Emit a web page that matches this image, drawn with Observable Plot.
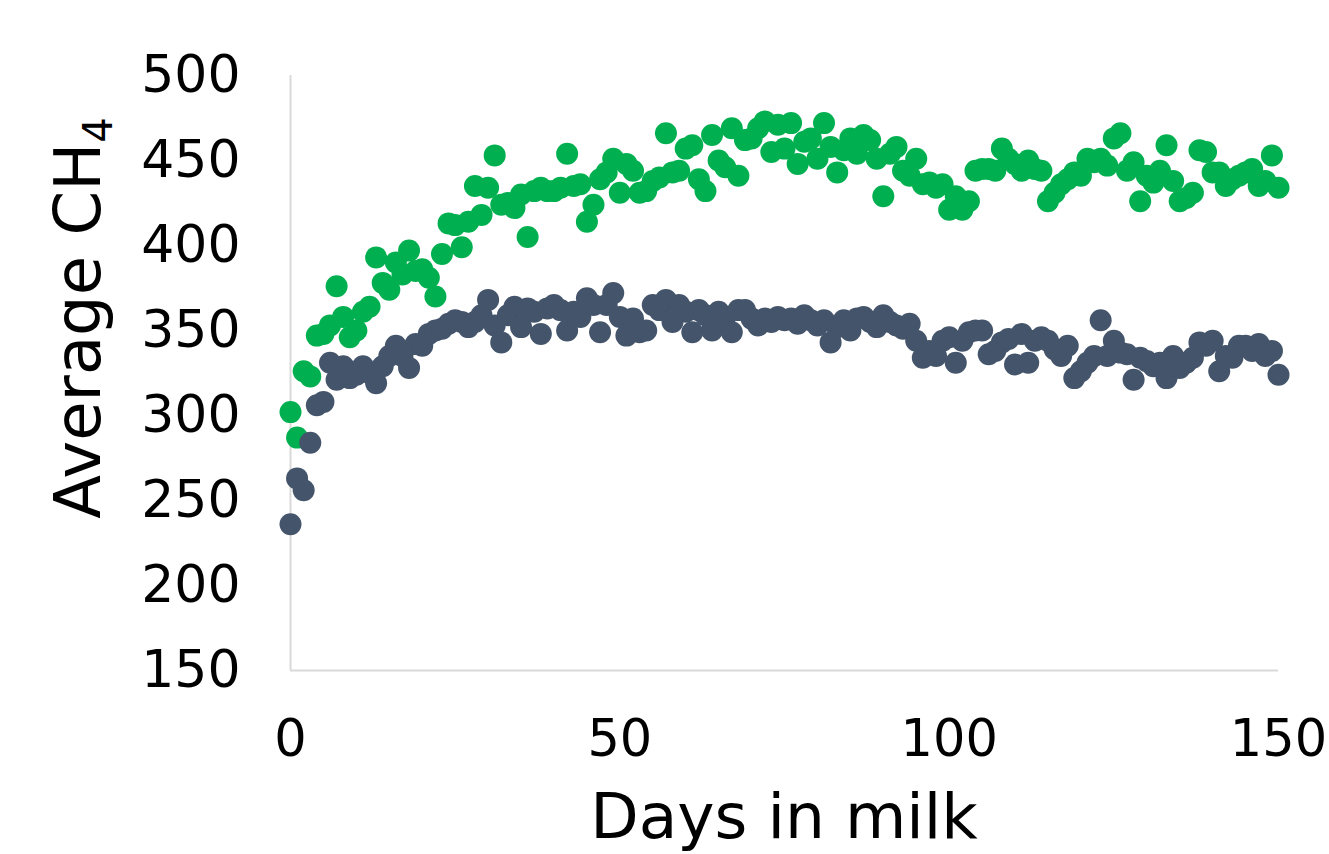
<!DOCTYPE html>
<html>
<head>
<meta charset="utf-8">
<script src="https://cdn.jsdelivr.net/npm/d3@7"></script>
<script src="https://cdn.jsdelivr.net/npm/@observablehq/plot@0.6"></script>
<style>
  html, body { margin: 0; padding: 0; background: #fff; }
  #chart { width: 1329px; height: 854px; }
</style>
</head>
<body>
<div id="chart"></div>
<script>
// Days in milk 0..150 (one point per day)
const days = d3.range(0, 151);

// Upper series (green)
const greenValues = [
  302, 287, 326, 323, 347, 348, 353, 376, 358, 346,
  350, 361, 364, 393, 378, 374, 390, 383, 397, 385,
  386, 381, 370, 395, 413, 412, 399, 414, 435, 418,
  434, 453, 424, 425, 422, 430, 405, 432, 434, 432,
  432, 434, 454, 435, 436, 414, 424, 439, 443, 451,
  431, 448, 444, 431, 432, 438, 440, 466, 443, 444,
  457, 459, 439, 432, 465, 450, 446, 469, 441, 462,
  463, 469, 473, 455, 471, 457, 472, 448, 461, 463,
  451, 472, 458, 443, 456, 463, 454, 465, 462, 451,
  429, 454, 458, 444, 441, 451, 436, 437, 434, 436,
  421, 429, 421, 426, 444, 445, 445, 444, 457, 451,
  448, 444, 450, 445, 444, 426, 431, 436, 439, 443,
  441, 451, 449, 451, 447, 463, 466, 444, 449, 426,
  441, 437, 444, 459, 438, 426, 428, 431, 456, 455,
  443, 443, 435, 439, 441, 443, 445, 435, 438, 453,
  434
];

// Lower series (dark blue-grey)
const navyValues = [
  236, 263, 256, 284, 306, 308, 331, 321, 329, 322,
  324, 329, 325, 319, 329, 335, 341, 335, 328, 342,
  341, 348, 350, 351, 354, 356, 355, 352, 355, 359,
  368, 353, 343, 359, 364, 352, 363, 361, 348, 363,
  365, 362, 350, 361, 358, 369, 365, 349, 365, 372,
  358, 347, 357, 349, 350, 365, 362, 368, 355, 365,
  361, 349, 362, 359, 350, 361, 358, 349, 362, 362,
  357, 353, 357, 355, 358, 356, 357, 354, 359, 356,
  353, 356, 343, 352, 356, 350, 357, 358, 355, 352,
  359, 355, 353, 351, 354, 344, 334, 338, 335, 344,
  346, 331, 344, 349, 350, 350, 336, 338, 343, 345,
  330, 348, 331, 344, 346, 344, 339, 335, 341, 322,
  326, 331, 335, 356, 335, 344, 337, 336, 321, 334,
  332, 329, 331, 322, 335, 328, 331, 334, 343, 341,
  344, 326, 335, 334, 341, 341, 338, 342, 335, 338,
  324
];

const xTicks = [0, 50, 100, 150];
const yTicks = [150, 200, 250, 300, 350, 400, 450, 500];

const greenData = days.map((d, i) => ({day: d, value: greenValues[i]}));
const navyData = days.map((d, i) => ({day: d, value: navyValues[i]}));

const FONT = "DejaVu Sans, Verdana, sans-serif";
const axisColor = "#d9d9d9";

const plot = Plot.plot({
  width: 1329,
  height: 854,
  marginLeft: 290,
  marginRight: 51,
  marginTop: 75,
  marginBottom: 184,
  style: { background: "#fff", fontFamily: FONT, color: "#000" },
  x: { domain: [0, 150] },
  y: { domain: [150, 500] },
  marks: [
    Plot.ruleX([0], { stroke: axisColor, strokeWidth: 2 }),
    Plot.ruleY([150], { stroke: axisColor, strokeWidth: 2 }),
    Plot.axisY(yTicks, { tickSize: 0, tickPadding: 50, fontSize: 52, label: null, fill: "#000" }),
    Plot.axisX(xTicks, { tickSize: 0, tickPadding: 49, fontSize: 51, label: null, fill: "#000" }),
    Plot.dot(greenData, { x: "day", y: "value", r: 11, fill: "#00B050", stroke: "none" }),
    Plot.dot(navyData, { x: "day", y: "value", r: 11, fill: "#44546A", stroke: "none" })
  ]
});

document.getElementById("chart").appendChild(plot);

// Axis titles (with a real subscript)
const svg = d3.select(plot);
const yTitle = svg.append("text")
  .attr("transform", "translate(100, 318) rotate(-90)")
  .attr("text-anchor", "middle")
  .attr("font-family", FONT)
  .attr("font-size", 64)
  .attr("fill", "#000");
yTitle.append("tspan").text("Average CH");
yTitle.append("tspan").attr("font-size", 40).attr("dy", 12).text("4");

svg.append("text")
  .attr("x", 784)
  .attr("y", 838)
  .attr("text-anchor", "middle")
  .attr("font-family", FONT)
  .attr("font-size", 63)
  .attr("fill", "#000")
  .text("Days in milk");
</script>
</body>
</html>
